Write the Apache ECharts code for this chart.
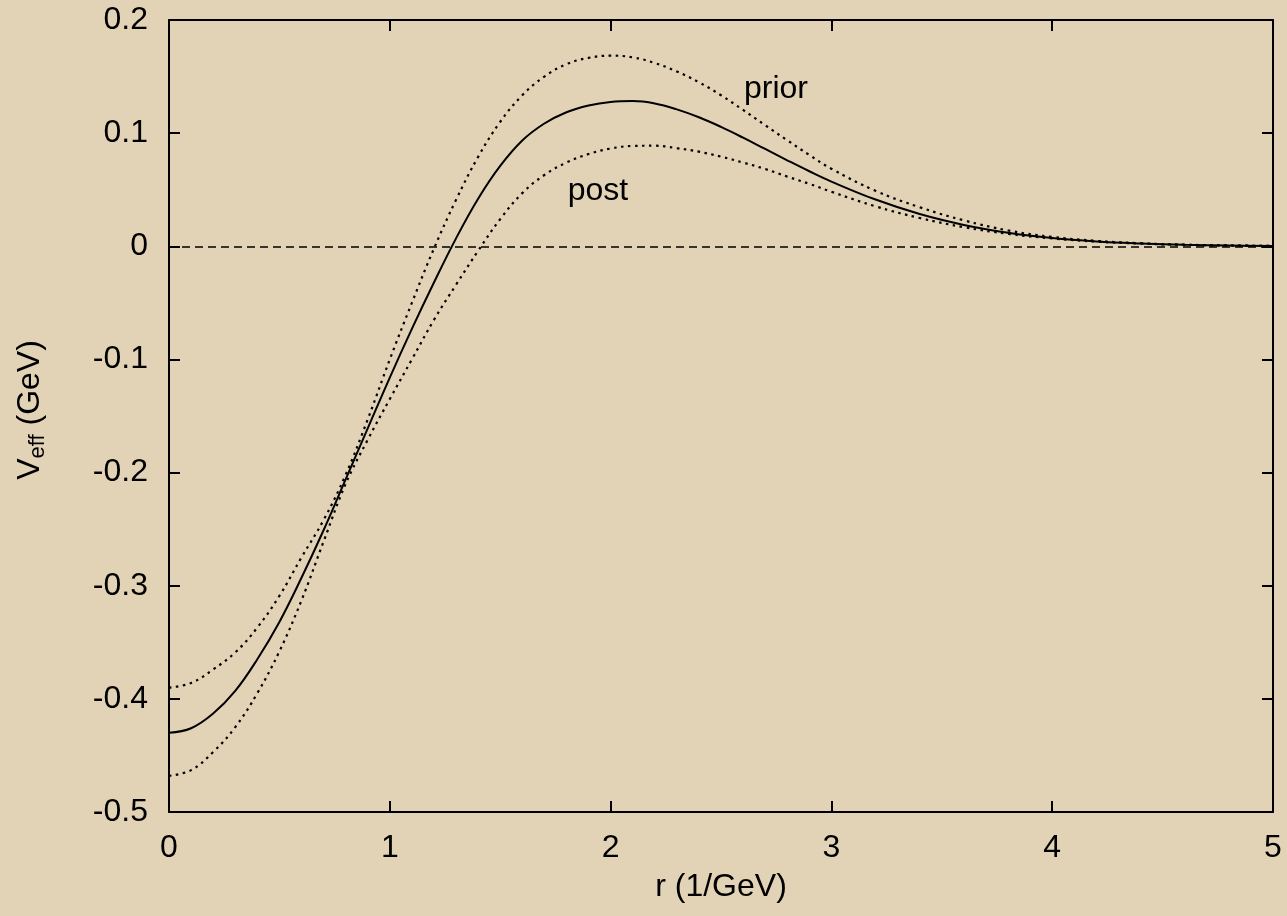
<!DOCTYPE html>
<html>
<head>
<meta charset="utf-8">
<title>Effective potential</title>
<script src="https://cdn.jsdelivr.net/npm/echarts@6/dist/echarts.min.js"></script>
<style>
  html, body { margin: 0; padding: 0; background: #e2d3b6; }
  #chart { width: 1287px; height: 916px; }
</style>
</head>
<body>
<div id="chart"></div>
<script>
// radial distance r (1/GeV)
const r = [0, 0.1, 0.2, 0.3, 0.4, 0.5, 0.6, 0.7, 0.8, 0.9, 1.0, 1.1, 1.2, 1.3, 1.4,
           1.5, 1.6, 1.7, 1.8, 1.9, 2.0, 2.1, 2.2, 2.3, 2.4, 2.5, 2.6, 2.7, 2.8, 2.9,
           3.0, 3.2, 3.4, 3.6, 3.8, 4.0, 4.2, 4.4, 4.6, 4.8, 5.0];

// central effective potential V_eff (GeV)
const vCentral = [-0.430, -0.426, -0.413, -0.393, -0.365, -0.332, -0.293, -0.251,
                  -0.206, -0.161, -0.116, -0.073, -0.032, 0.007, 0.042,
                  0.071, 0.0935, 0.1085, 0.1185, 0.1245, 0.1276, 0.1283, 0.1262, 0.1210,
                  0.1140, 0.1055, 0.0960, 0.0860, 0.0760, 0.0663,
                  0.0572, 0.0413, 0.0285, 0.0189, 0.0120, 0.0073, 0.0043, 0.0025,
                  0.0013, 0.0007, 0.0003];

// "prior" curve
const vPrior = [-0.390, -0.386, -0.374, -0.359, -0.337, -0.309, -0.275, -0.242,
                -0.202, -0.153, -0.100, -0.050, -0.002, 0.041, 0.079,
                0.110, 0.1335, 0.150, 0.161, 0.1665, 0.1685, 0.1670, 0.1620, 0.1545,
                0.1450, 0.1335, 0.1205, 0.1070, 0.0937, 0.0807,
                0.0685, 0.0490, 0.0345, 0.0229, 0.0140, 0.0083, 0.0048, 0.0027,
                0.0014, 0.0007, 0.0003];

// "post" curve
const vPost = [-0.468, -0.463, -0.447, -0.425, -0.395, -0.358, -0.313, -0.261,
               -0.210, -0.171, -0.135, -0.100, -0.065, -0.034, -0.004,
               0.024, 0.047, 0.063, 0.074, 0.0815, 0.0864, 0.0887, 0.0889, 0.0867,
               0.0836, 0.0792, 0.074, 0.0683, 0.0616, 0.0552,
               0.0482, 0.0353, 0.0250, 0.0169, 0.0110, 0.0069, 0.0041, 0.0024,
               0.0013, 0.0007, 0.0003];

const curveLabels = ['prior', 'post'];

const pairs = v => r.map((x, i) => [x, v[i]]);

const FONT = '"Liberation Sans", Arial, Helvetica, sans-serif';
const INK = '#000';
const FS = 32;

const chart = echarts.init(document.getElementById('chart'), null, { renderer: 'canvas' });

const frameAxis = {
  axisLine: { show: true, onZero: false, lineStyle: { color: INK, width: 2 } },
  axisTick: { show: true, inside: true, length: 11, lineStyle: { color: INK, width: 2 } },
  splitLine: { show: false }
};

const option = {
  backgroundColor: '#e2d3b6',
  animation: false,
  grid: { left: 169, right: 14, top: 20, bottom: 104, containLabel: false },
  xAxis: [
    Object.assign({
      type: 'value', position: 'bottom', min: 0, max: 5, interval: 1,
      name: 'r (1/GeV)', nameLocation: 'middle', nameGap: 59,
      nameTextStyle: { color: INK, fontSize: FS, fontFamily: FONT },
      axisLabel: { color: INK, fontSize: FS, fontFamily: FONT, margin: 20 }
    }, frameAxis),
    Object.assign({
      type: 'value', position: 'top', min: 0, max: 5, interval: 1,
      axisLabel: { show: false }
    }, frameAxis)
  ],
  yAxis: [
    Object.assign({
      type: 'value', position: 'left', min: -0.5, max: 0.2, interval: 0.1,
      axisLabel: {
        color: INK, fontSize: FS, fontFamily: FONT, margin: 21,
        formatter: v => String(Math.round(v * 10) / 10)
      }
    }, frameAxis),
    Object.assign({
      type: 'value', position: 'right', min: -0.5, max: 0.2, interval: 0.1,
      axisLabel: { show: false }
    }, frameAxis)
  ],
  graphic: [{
    type: 'text',
    rotation: Math.PI / 2,
    x: 30, y: 410,
    style: {
      text: '{a|V}{b|eff}{a| (GeV)}',
      rich: {
        a: { fontSize: FS, fontFamily: FONT, fill: INK, color: INK },
        b: { fontSize: 22, fontFamily: FONT, fill: INK, color: INK, verticalAlign: 'bottom', padding: [16, 0, 0, 0] }
      },
      align: 'center',
      verticalAlign: 'middle'
    }
  }],
  series: [
    {
      name: 'central', type: 'line', data: pairs(vCentral),
      smooth: 0.4, showSymbol: false, symbol: 'none',
      lineStyle: { color: INK, width: 2 },
      markLine: {
        silent: true, symbol: 'none', label: { show: false },
        lineStyle: { color: INK, width: 1.6, type: [8, 5] },
        data: [{ yAxis: 0 }]
      }
    },
    {
      name: 'prior', type: 'line', data: pairs(vPrior),
      smooth: 0.4, showSymbol: false, symbol: 'none',
      lineStyle: { color: INK, width: 2.2, type: [2.5, 4.5] },
      markPoint: {
        symbol: 'circle', symbolSize: 0, silent: true,
        label: { show: true, formatter: curveLabels[0], color: INK, fontSize: FS, fontFamily: FONT, position: 'inside' },
        data: [{ coord: [2.749, 0.139] }]
      }
    },
    {
      name: 'post', type: 'line', data: pairs(vPost),
      smooth: 0.4, showSymbol: false, symbol: 'none',
      lineStyle: { color: INK, width: 2.2, type: [2.5, 4.5] },
      markPoint: {
        symbol: 'circle', symbolSize: 0, silent: true,
        label: { show: true, formatter: curveLabels[1], color: INK, fontSize: FS, fontFamily: FONT, position: 'inside' },
        data: [{ coord: [1.943, 0.049] }]
      }
    }
  ]
};

chart.setOption(option);
</script>
</body>
</html>
